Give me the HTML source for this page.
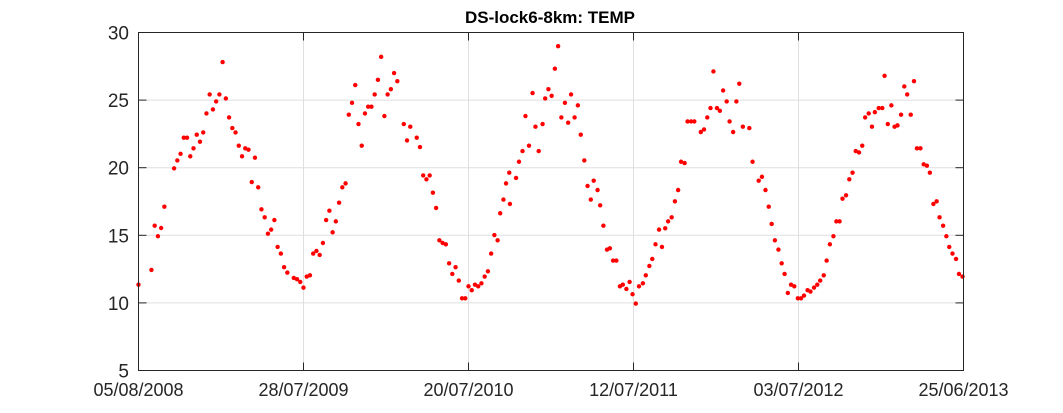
<!DOCTYPE html>
<html><head><meta charset="utf-8"><style>
html,body{margin:0;padding:0;background:#fff;width:1063px;height:413px;overflow:hidden}
svg{display:block;font-family:"Liberation Sans",Arial,sans-serif}
</style></head><body>
<svg id="chart" width="1063" height="413" viewBox="0 0 1063 413" xmlns="http://www.w3.org/2000/svg">
<rect x="0" y="0" width="1063" height="413" fill="#fff"/>
<text x="550" y="23" text-anchor="middle" font-size="17" font-weight="bold" fill="#000">DS-lock6-8km: TEMP</text>
<g id="grid"></g>
<g id="points"></g>
<rect x="138.5" y="32.5" width="825" height="338" fill="none" stroke="#262626" stroke-width="1"/>
<g id="ticks"></g>
</svg>
<script>
const weeks = [0,4,5,6,7,8,11,12,13,14,15,16,17,18,19,20,21,22,23,24,25,26,27,28,29,30,31,32,33,34,35,36,37,38,39,40,41,42,43,44,45,46,48,49,50,51,52,53,
54,55,56,57,58,59,60,61,62,63,64,65,66,67,68,69,70,71,72,73,74,75,76,77,78,79,80,82,83,84,86,87,88,89,90,91,92,93,94,95,96,97,98,99,100,101,102,103,104,
105,106,107,108,109,110,111,111.8,112.8,113.6,114.6,114.8,116.7,117.6,118.7,119.6,120.7,121.8,122.7,123.7,124.9,125.7,126.7,127.7,128.7,129.7,130.7,131.8,132.8,133.7,134.8,135.8,136.7,137.8,138.8,139.8,140.7,141.9,142.7,143.7,144.8,145.7,146.7,147.7,148.8,149.7,150.8,151.8,152.7,153.7,154.7,
155.9,156.8,157.9,158.8,159.8,160.9,161.8,162.8,163.7,164.8,165.8,166.8,167.7,168.8,169.7,170.8,171.8,173.8,174.8,175.8,176.8,177.7,178.8,179.7,180.7,181.8,182.7,183.8,184.8,185.7,186.8,188.8,189.8,191.7,192.7,193.8,194.8,195.7,196.7,197.8,198.8,199.7,200.7,201.7,202.7,203.8,204.8,205.7,
206.8,207.7,208.8,209.8,210.7,211.8,212.7,213.7,214.8,215.7,216.7,217.6,218.7,219.7,220.7,221.7,222.7,223.7,224.6,225.7,226.7,227.6,228.8,229.9,230.6,231.6,232.7,233.7,234.6,235.7,236.7,237.6,238.7,239.7,240.6,241.7,242.7,243.7,244.6,245.7,246.7,247.6,248.7,249.7,250.6,251.6,252.7,253.6,254.7];
const temps = [11.35,12.44,15.71,14.93,15.54,17.12,19.95,20.54,21.03,22.22,22.22,20.84,21.43,22.44,21.92,22.61,24.01,25.42,24.31,24.90,25.42,27.81,25.12,23.72,22.93,22.61,21.63,20.84,21.43,21.33,18.94,20.74,18.55,16.92,16.33,15.12,15.42,16.13,14.14,13.65,12.64,12.24,11.85,11.75,11.55,11.13,11.95,12.04,
13.65,13.84,13.55,14.43,16.13,16.82,15.22,16.03,17.41,18.55,18.84,23.92,24.80,26.11,23.23,21.63,24.01,24.51,24.51,25.42,26.50,28.20,23.82,25.42,25.81,27.00,26.40,23.23,22.02,23.03,22.22,21.53,19.43,19.14,19.43,18.15,17.02,14.63,14.43,14.33,12.93,12.14,12.64,11.65,10.34,10.34,11.23,10.94,11.35,
11.23,11.45,11.95,12.34,13.65,15.02,14.63,16.63,17.64,18.84,19.63,17.32,19.24,20.44,21.23,23.82,21.63,25.52,23.03,21.23,23.23,25.12,25.81,25.32,27.32,28.99,23.72,24.80,23.33,25.42,23.72,24.61,22.44,20.54,18.65,17.64,19.04,18.35,17.22,15.71,13.94,14.04,13.13,13.13,11.23,11.35,11.03,11.55,10.64,9.95,11.23,
11.45,12.04,12.73,13.25,14.33,15.42,14.14,15.52,16.03,16.33,17.51,18.35,20.44,20.34,23.42,23.42,23.42,22.64,22.83,23.72,24.41,27.12,24.41,24.21,25.71,24.90,23.42,22.64,24.90,26.21,23.03,22.93,20.44,19.04,19.33,18.35,17.12,15.84,14.63,13.94,12.93,12.14,10.74,11.35,11.23,10.34,10.34,10.54,
10.94,10.84,11.13,11.35,11.65,12.04,13.13,14.33,14.93,16.03,16.03,17.71,17.96,19.14,19.63,21.23,21.13,21.63,23.72,24.01,23.03,24.11,24.41,24.41,26.80,23.23,24.61,23.03,23.13,23.92,26.01,25.42,23.92,26.40,21.43,21.43,20.25,20.15,19.63,17.32,17.51,16.33,15.71,14.93,14.14,13.65,13.25,12.14,11.95];
const xTickWeeks = [0,51,102,153,204,255];
const xTickLabels = ["05/08/2008","28/07/2009","20/07/2010","12/07/2011","03/07/2012","25/06/2013"];
const yTicks = [5,10,15,20,25,30];

const X0=138.5,X1=963.5,Y0=370.5,Y1=32.5;
function xs(w){return X0+(w-0)/(255-0)*(X1-X0);}
function ys(v){return Y0-(v-5)/(30-5)*(Y0-Y1);}
const NS="http://www.w3.org/2000/svg";
const grid=document.getElementById('grid'),pts=document.getElementById('points'),tk=document.getElementById('ticks');
function mk(tag,attrs,parent){const e=document.createElementNS(NS,tag);for(const k in attrs)e.setAttribute(k,attrs[k]);parent.appendChild(e);return e;}
yTicks.forEach(v=>{
  const y=Math.round(ys(v))+0.5-0.5;
  const g=mk('line',{x1:X0,x2:X1,y1:ys(v),y2:ys(v),stroke:'#dfdfdf','stroke-width':1},grid);
  
  
  const t1=mk('line',{x1:X0,x2:X0+8,y1:ys(v),y2:ys(v),stroke:'#262626','stroke-width':1},tk);
  
  
  const t2=mk('line',{x1:X1-8,x2:X1,y1:ys(v),y2:ys(v),stroke:'#262626','stroke-width':1},tk);
  
  
  const l=mk('text',{x:129,y:ys(v)+7,'text-anchor':'end','font-size':19,fill:'#262626'},tk);
  l.textContent=v;
  
  
});
xTickWeeks.forEach((w,i)=>{
  const x=xs(w);
  const g=mk('line',{x1:x,x2:x,y1:Y1,y2:Y0,stroke:'#dfdfdf','stroke-width':1},grid);
  
  
  const t1=mk('line',{x1:x,x2:x,y1:Y0-8,y2:Y0,stroke:'#262626','stroke-width':1},tk);
  
  
  const t2=mk('line',{x1:x,x2:x,y1:Y1,y2:Y1+8,stroke:'#262626','stroke-width':1},tk);
  
  
  const l=mk('text',{x:x,y:396,'text-anchor':'middle','font-size':18,fill:'#262626'},tk);
  l.textContent=xTickLabels[i];
  
  
});
weeks.forEach((w,i)=>{
  const c=mk('circle',{cx:xs(w),cy:ys(temps[i]),r:2.2,fill:'#ff0000'},pts);
  
  
});
</script>
</body></html>
